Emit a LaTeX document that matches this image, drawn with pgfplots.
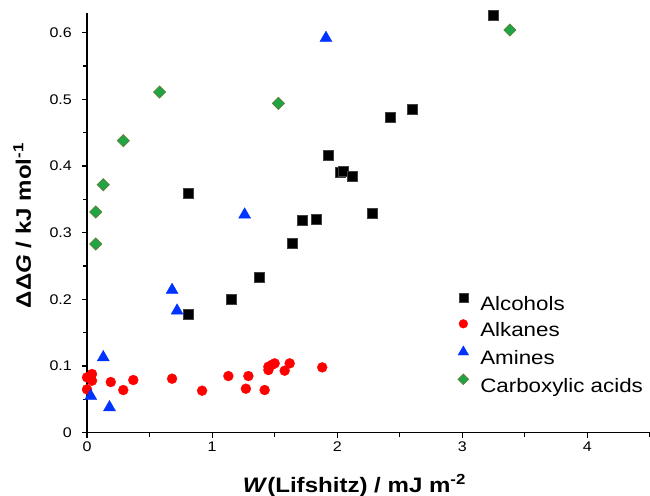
\documentclass[border=0pt]{standalone}
\usepackage{pgfplots}
\pgfplotsset{compat=1.18}
\usepackage{fontspec}
\setmainfont{Liberation Sans}[FakeStretch=1.15]

\definecolor{myblue}{RGB}{0,51,255}
\definecolor{mygreenfill}{RGB}{30,165,70}
\definecolor{mygreenedge}{RGB}{95,130,55}

\begin{document}
\begin{tikzpicture}
\begin{axis}[
  scale only axis, width=563bp, height=420bp,
  xmin=0, xmax=4.5, ymin=0, ymax=0.63,
  clip=false,
  axis lines*=left,
  axis line style={line width=1.5bp, black},
  xtick={0,1,2,3,4}, xticklabels={0,1,2,3,4},
  minor xtick={0.5,1.5,2.5,3.5,4.5},
  ytick={0,0.1,0.2,0.3,0.4,0.5,0.6}, yticklabels={0,0.1,0.2,0.3,0.4,0.5,0.6},
  minor ytick={0.05,0.15,0.25,0.35,0.45,0.55},
  tick align=outside, major tick length=5bp, minor tick length=4bp,
  every tick/.style={black, line width=1.2bp},
  tick label style={font=\fontsize{14}{16}\selectfont, inner sep=0pt},
  xticklabel style={anchor=north, yshift=-4.3bp},
  yticklabel style={anchor=east, xshift=-10bp},
  xlabel={\textbf{\textit{W}(Lifshitz) / mJ m\textsuperscript{-2}}},
  ylabel={\textbf{ΔΔ\textit{G} / kJ mol\textsuperscript{-1}}},
  every axis x label/.style={at={(axis description cs:0.475,-0.1412)}, anchor=base, inner sep=0pt, font=\fontsize{21}{24}\selectfont},
  every axis y label/.style={at={(axis description cs:-0.1314,0.493)}, rotate=90, anchor=north, inner sep=0pt, font=\fontsize{21}{24}\selectfont},
  legend style={draw=none, fill=none, at={(axis description cs:0.659,0.3326)}, anchor=north west,
    inner sep=0pt, outer sep=0pt, font=\fontsize{19.5}{23}\selectfont, row sep=9bp,
    nodes={inner sep=0pt, text height=14bp, text depth=0bp},
    /tikz/every odd column/.append style={column sep=11.6bp}},
  legend cell align=left,
  legend image code/.code={\draw[#1, /tikz/every mark/.append style={scale=0.88}] plot coordinates {(0bp,6bp)};},
]
\addplot[only marks, mark=square*, mark size=5bp, mark options={fill=black, draw=black!75, line width=0.4bp}] coordinates {
(0.81,0.178) (0.81,0.360) (1.15,0.200) (1.38,0.234) (1.64,0.285) (1.72,0.319) (1.83,0.320)
(1.93,0.417) (2.02,0.391) (2.05,0.393) (2.12,0.385) (2.28,0.329) (2.42,0.474) (2.60,0.485) (3.25,0.627)
};
\addlegendentry{Alcohols}
\addplot[only marks, mark=*, mark size=5bp, mark options={fill=red, draw=red, line width=0.3bp}] coordinates {
(0.00,0.083) (0.04,0.088) (0.04,0.078) (0.00,0.065) (0.19,0.076) (0.29,0.064) (0.37,0.079)
(0.68,0.081) (0.92,0.063) (1.13,0.085) (1.29,0.085) (1.27,0.066) (1.42,0.064) (1.45,0.099)
(1.45,0.094) (1.48,0.102) (1.50,0.104) (1.58,0.093) (1.62,0.104) (1.88,0.098)
};
\addlegendentry{Alkanes}
\addplot[only marks, mark=triangle*, mark size=7bp, mark options={fill=myblue, draw=myblue, line width=0.3bp}] coordinates {
(1.91,0.592) (1.26,0.327) (0.68,0.214) (0.72,0.183) (0.13,0.113) (0.03,0.055) (0.18,0.038)
};
\addlegendentry{Amines}
\addplot[only marks, mark=square*, mark size=4.25bp, mark options={rotate=45, fill=mygreenfill, draw=mygreenedge, line width=0.8bp}] coordinates {
(0.58,0.511) (0.29,0.438) (0.13,0.372) (0.07,0.331) (0.07,0.283) (1.53,0.494) (3.38,0.604)
};
\addlegendentry{Carboxylic acids}
\end{axis}
\pgfresetboundingbox
\path[use as bounding box] (-87bp,-63.3bp) rectangle (563bp,432.7bp);
\end{tikzpicture}
\end{document}
